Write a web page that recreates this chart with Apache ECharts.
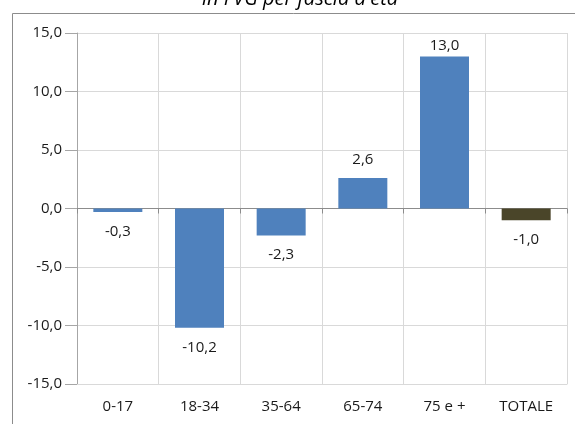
<!DOCTYPE html>
<html>
<head>
<meta charset="utf-8">
<script src="https://cdn.jsdelivr.net/npm/echarts@6/dist/echarts.min.js"></script>
<style>
  html, body { margin: 0; padding: 0; background: #fff; }
  #chart { width: 575px; height: 424px; }
</style>
</head>
<body>
<div id="chart"></div>
<script>
// Age bands and the percentage change for each one
const categories = ['0-17', '18-34', '35-64', '65-74', '75 e +', 'TOTALE'];
const values = [-0.3, -10.2, -2.3, 2.6, 13.0, -1.0];
const yTicks = [-15, -10, -5, 0, 5, 10, 15];
const titleText = "in FVG per fascia d'età";

const BLUE = '#4F81BD';
const TOTAL_COLOR = '#4A4529';
const FONT = 'Open Sans';
const TEXT_COLOR = '#1a1a1a';

const fmt = v => v.toFixed(1).replace('.', ',');

const barData = values.map((v, i) => ({
  value: v,
  itemStyle: { color: categories[i] === 'TOTALE' ? TOTAL_COLOR : BLUE },
  label: {
    position: v < 0 ? 'bottom' : 'top',
    distance: v < 0 ? 12 : (v > 12 ? 3 : 11)
  }
}));

const chart = echarts.init(document.getElementById('chart'), null, { renderer: 'canvas' });
chart.setOption({
  animation: false,
  backgroundColor: '#fff',
  grid: { left: 77, right: 8, top: 33, bottom: 40, containLabel: false },
  graphic: [
    {
      type: 'polyline',
      shape: { points: [[12.5, 424], [12.5, 13.5], [575, 13.5]] },
      style: { stroke: '#8C8C8C', lineWidth: 1, fill: null },
      silent: true
    },
    {
      type: 'text',
      x: 300, y: 9,
      style: {
        text: titleText,
        font: 'italic 20px "' + FONT + '"',
        fill: '#000',
        align: 'center',
        verticalAlign: 'bottom'
      },
      silent: true
    }
  ],
  xAxis: [
    {
      type: 'category',
      data: categories,
      position: 'bottom',
      axisLine: { onZero: false, lineStyle: { color: '#D9D9D9' } },
      axisTick: { show: false },
      splitLine: { show: true, lineStyle: { color: '#D9D9D9' } },
      axisLabel: { color: TEXT_COLOR, fontSize: 15, fontFamily: FONT, margin: 15 }
    },
    {
      type: 'category',
      data: categories,
      position: 'bottom',
      axisLine: { onZero: true, lineStyle: { color: '#8C8C8C' } },
      axisTick: { show: true, length: 5, lineStyle: { color: '#8C8C8C' } },
      axisLabel: { show: false },
      splitLine: { show: false }
    }
  ],
  yAxis: {
    type: 'value',
    min: yTicks[0],
    max: yTicks[yTicks.length - 1],
    interval: 5,
    axisLine: { show: true, lineStyle: { color: '#A6A6A6' } },
    axisTick: { show: true, length: 12, lineStyle: { color: '#A6A6A6' } },
    splitLine: { show: true, lineStyle: { color: '#D9D9D9' } },
    axisLabel: {
      color: TEXT_COLOR, fontSize: 15, fontFamily: FONT, margin: 15,
      formatter: v => fmt(v)
    }
  },
  series: [{
    type: 'bar',
    xAxisIndex: 0,
    data: barData,
    barWidth: '60%',
    label: {
      show: true,
      color: TEXT_COLOR,
      fontSize: 15,
      fontFamily: FONT,
      formatter: p => fmt(p.value)
    }
  }]
});
</script>
</body>
</html>
